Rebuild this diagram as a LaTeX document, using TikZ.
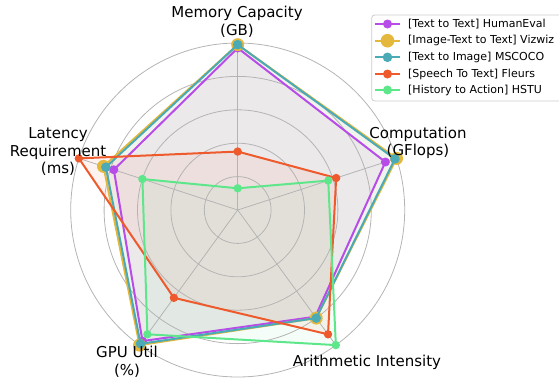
\documentclass[tikz,border=0pt]{standalone}
\usepackage{fontspec}
\setmainfont{DejaVu Sans}
\definecolor{cpur}{HTML}{B84CE8}
\definecolor{cgold}{HTML}{E4B83C}
\definecolor{cteal}{HTML}{4AAAB5}
\definecolor{corg}{HTML}{EE5A2B}
\definecolor{cgrn}{HTML}{5EE68A}
\definecolor{cgrid}{HTML}{B4B4B4}
\definecolor{cleg}{HTML}{CCCCCC}
\begin{document}
\begin{tikzpicture}[x=1bp,y=1bp,
  gridline/.style={draw=cgrid, line width=0.8bp},
  serline/.style={line width=2bp, line join=round},
  axlabel/.style={align=center, inner sep=0pt, font=\fontsize{15bp}{17.5bp}\selectfont},
  legtext/.style={anchor=west, inner sep=0pt, font=\fontsize{11bp}{13bp}\selectfont},
  legbox/.style={draw=cleg, fill=white, fill opacity=0.8, rounded corners=3bp, line width=0.8bp}]
\useasboundingbox (-237.7,-171) rectangle (321.3,210);
\def\R{167}
\foreach \nm/\a/\b/\c/\d/\e in {pur/0.97/0.93/0.79/0.97/0.78, gold/0.99/1.0/0.80/1.0/0.845, teal/0.99/0.99/0.80/0.99/0.83, org/0.35/0.62/0.92/0.65/1.0, grn/0.13/0.57/1.0/0.92/0.60} {
  \coordinate (\nm1) at (90:{\a*\R});
  \coordinate (\nm2) at (18:{\b*\R});
  \coordinate (\nm3) at (-54:{\c*\R});
  \coordinate (\nm4) at (-126:{\d*\R});
  \coordinate (\nm5) at (162:{\e*\R});
}
% fills
\foreach \nm/\col in {pur/cpur, gold/cgold, teal/cteal, org/corg, grn/cgrn} {
  \fill[\col, opacity=0.07] (\nm1) -- (\nm2) -- (\nm3) -- (\nm4) -- (\nm5) -- cycle;
}
% grid
\coordinate (c) at (0,0);
\foreach \r in {1,...,5} \draw[gridline] (c) circle ({\r*\R/5});
\foreach \a in {90,18,-54,-126,162} \draw[gridline] (c) -- (\a:\R);
% series
\foreach \nm/\col/\ms in {pur/cpur/4.5, gold/cgold/6.5, teal/cteal/4.8, org/corg/4.2, grn/cgrn/4.2} {
  \draw[serline, \col] (\nm1) -- (\nm2) -- (\nm3) -- (\nm4) -- (\nm5) -- cycle;
  \foreach \i in {1,...,5} \fill[\col] (\nm\i) circle (\ms);
}
% axis labels
\node[axlabel] (lmem) at (-0.7,188) {Memory Capacity\\(GB)};
\node[axlabel] (lcomp) at (180.3,67) {Computation\\(GFlops)};
\node[axlabel] (lari) at (129.3,-152) {Arithmetic Intensity};
\node[axlabel] (lgpu) at (-110.7,-152) {GPU Util\\(\%)};
\node[axlabel] (llat) at (-179.7,58) {Latency\\Requirement\\(ms)};
% legend
\path[legbox] (134,109) rectangle (340,195);
\foreach \y/\col/\ms/\txt [count=\k] in {186/cpur/4.5/{[Text to Text] HumanEval}, 169.3/cgold/6.8/{[Image-Text to Text] Vizwiz}, 152.7/cteal/4.8/{[Text to Image] MSCOCO}, 136/corg/4.5/{[Speech To Text] Fleurs}, 120/cgrn/4.5/{[History to Action] HSTU}} {
  \coordinate (la\k) at (137.3,\y);
  \coordinate (lb\k) at (162.3,\y);
  \draw[serline, \col] (la\k) -- (lb\k);
  \fill[\col] (149.8,\y) circle (\ms);
  \node[legtext] (lt\k) at (170.3,\y) {\txt};
}
\end{tikzpicture}
\end{document}
